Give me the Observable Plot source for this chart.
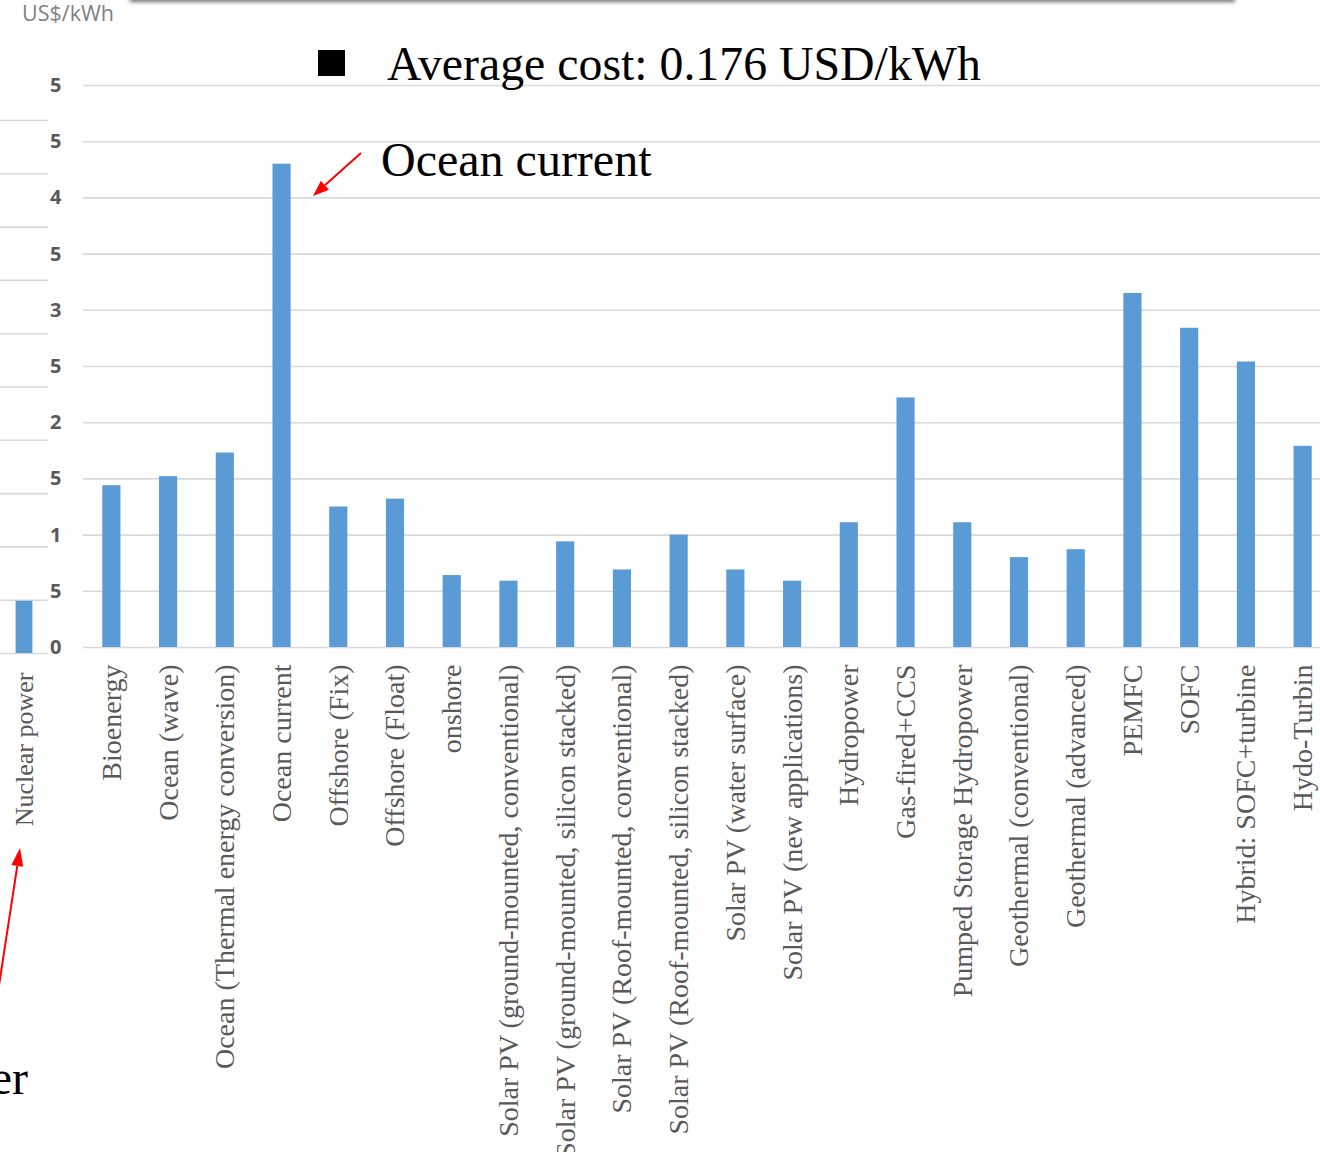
<!DOCTYPE html>
<html>
<head>
<meta charset="utf-8">
<script src="https://cdn.jsdelivr.net/npm/d3@7"></script>
<script src="https://cdn.jsdelivr.net/npm/@observablehq/plot@0.6"></script>
<style>
  html, body { margin: 0; padding: 0; background: #fff; }
  body { width: 1320px; height: 1152px; overflow: hidden; position: relative; }
  .abs { position: absolute; left: 0; top: 0; }
  #shadow { position: absolute; left: 130px; top: -20px; width: 1105px; height: 20px; background: #fff;
            box-shadow: 0 2px 4px rgba(0,0,0,0.55); }
</style>
</head>
<body>
<div id="left" class="abs"></div>
<div id="main" class="abs"></div>
<div id="shadow"></div>
<svg id="notes" class="abs" width="1320" height="1152" style="pointer-events:none"></svg>
<script>
// ---- data ----
const categories = [
  "Bioenergy", "Ocean (wave)", "Ocean (Thermal energy conversion)", "Ocean current",
  "Offshore (Fix)", "Offshore (Float)", "onshore",
  "Solar PV (ground-mounted, conventional)", "Solar PV (ground-mounted, silicon stacked)",
  "Solar PV (Roof-mounted, conventional)", "Solar PV (Roof-mounted, silicon stacked)",
  "Solar PV (water surface)", "Solar PV (new applications)", "Hydropower", "Gas-fired+CCS",
  "Pumped Storage Hydropower", "Geothermal (conventional)", "Geothermal (advanced)",
  "PEMFC", "SOFC", "Hybrid: SOFC+turbine", "Hydo-Turbin"
];
const values = [1.44, 1.52, 1.73, 4.30, 1.25, 1.32, 0.64, 0.59, 0.94, 0.69, 1.00,
                0.69, 0.59, 1.11, 2.22, 1.11, 0.80, 0.87, 3.15, 2.84, 2.54, 1.79];
const leftCategories = ["Nuclear power"];
const leftValues = [0.49];
const yTicks = [0, 0.5, 1, 1.5, 2, 2.5, 3, 3.5, 4, 4.5, 5];
const yTickLabels = ["0", "5", "1", "5", "2", "5", "3", "5", "4", "5", "5"];
const unitText = "US$/kWh";
const legendText = "Average cost: 0.176 USD/kWh";
const calloutText = "Ocean current";
const cutText = "Nuclear power";

const barColor = "#5b9bd5";
const gridColor = "#d9d9d9";
const labelColor = "#595959";
const serif = "'Liberation Serif', 'Times New Roman', serif";

const rows = categories.map((c, i) => ({category: c, value: values[i]}));
const leftRows = leftCategories.map((c, i) => ({category: c, value: leftValues[i]}));

// ---- main chart ----
const main = Plot.plot({
  width: 1331, height: 1152,
  marginLeft: 83, marginRight: 0, marginTop: 85, marginBottom: 505,
  style: {background: "transparent", maxWidth: "none", overflow: "visible"},
  x: {domain: categories, paddingInner: 0.68, paddingOuter: 0.34, round: false, label: null},
  y: {domain: [0, 5], label: null},
  marks: [
    Plot.gridY(yTicks, {stroke: gridColor, strokeOpacity: 1, strokeWidth: 1.6}),
    Plot.barY(rows, {x: "category", y: "value", fill: barColor}),
    Plot.axisY(yTicks, {tickSize: 0, tickPadding: 22, tickFormat: (d, i) => yTickLabels[i],
      fontSize: 20, fontWeight: "bold", fontFamily: "'Open Sans', sans-serif", fill: labelColor, label: null}),
    Plot.axisX({tickSize: 0, tickPadding: 17, tickRotate: -90, fontSize: 28, fontFamily: serif,
      fill: labelColor, label: null})
  ]
});
document.getElementById("main").appendChild(main);

// ---- cropped left chart fragment ----
const left = Plot.plot({
  width: 48, height: 1152,
  marginLeft: 0, marginRight: 0, marginTop: 120, marginBottom: 499,
  style: {background: "transparent", maxWidth: "none", overflow: "visible"},
  x: {domain: leftCategories, paddingInner: 0.65, paddingOuter: 0.325, round: false, label: null},
  y: {domain: [0, 5], label: null, axis: null},
  marks: [
    Plot.gridY(yTicks, {stroke: gridColor, strokeOpacity: 1, strokeWidth: 1.6}),
    Plot.barY(leftRows, {x: "category", y: "value", fill: barColor}),
    Plot.axisX({tickSize: 0, tickPadding: 19, tickRotate: -90, fontSize: 26, fontFamily: serif,
      fill: labelColor, label: null})
  ]
});
document.getElementById("left").appendChild(left);

// ---- annotations ----
const notes = d3.select("#notes");
notes.append("text").attr("x", 22).attr("y", 21).attr("font-family", "'Open Sans', sans-serif")
  .attr("font-size", 21.5).attr("fill", "#7f7f7f").text(unitText);
notes.append("rect").attr("x", 318).attr("y", 50).attr("width", 27).attr("height", 26).attr("fill", "#000");
notes.append("text").attr("x", 387).attr("y", 80).attr("font-family", serif).attr("font-size", 47.8)
  .attr("fill", "#000").text(legendText);
notes.append("text").attr("x", 381).attr("y", 176).attr("font-family", serif).attr("font-size", 48)
  .attr("fill", "#000").text(calloutText);
notes.append("text").attr("x", 28).attr("y", 1094).attr("text-anchor", "end").attr("font-family", serif)
  .attr("font-size", 48).attr("fill", "#000").text(cutText);

function arrow(x1, y1, x2, y2, head, half) {
  const dx = x2 - x1, dy = y2 - y1, len = Math.hypot(dx, dy);
  const ux = dx / len, uy = dy / len;
  const bx = x2 - ux * head, by = y2 - uy * head;
  notes.append("line").attr("x1", x1).attr("y1", y1).attr("x2", bx).attr("y2", by)
    .attr("stroke", "#ff0000").attr("stroke-width", 2);
  notes.append("polygon")
    .attr("points", `${x2},${y2} ${bx - uy * half},${by + ux * half} ${bx + uy * half},${by - ux * half}`)
    .attr("fill", "#ff0000");
}
arrow(361, 153, 313, 196, 16, 6);
arrow(-2, 992, 20, 848, 18, 6);
</script>
</body>
</html>
